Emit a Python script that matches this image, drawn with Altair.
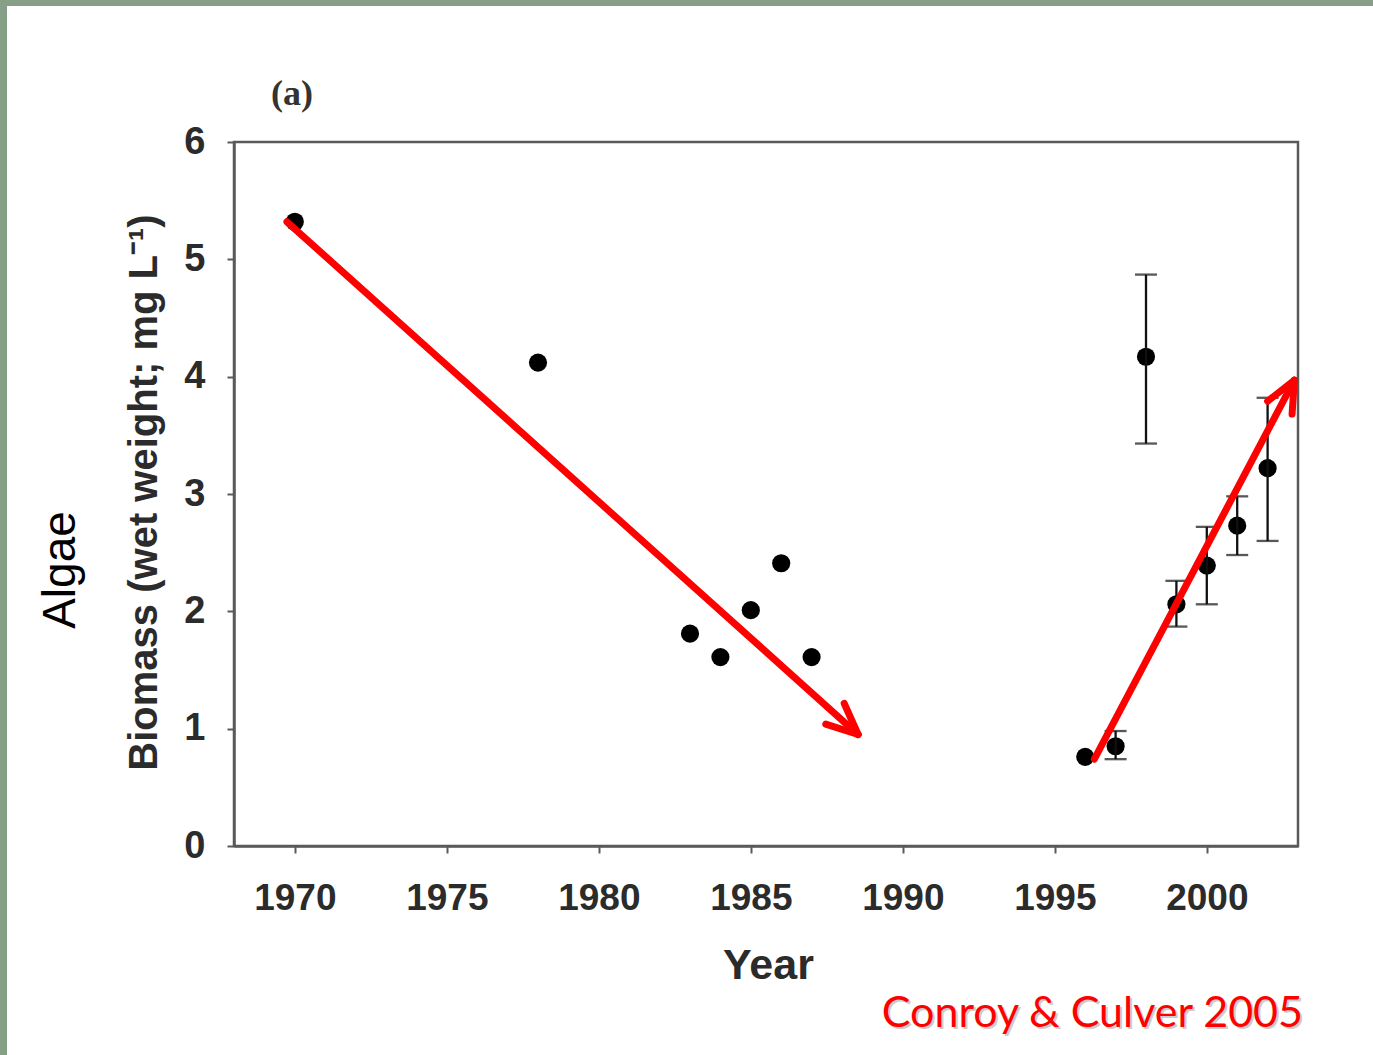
import math
import altair as alt
import pandas as pd

# Mean algal biomass by year
years = [1970, 1978, 1983, 1984, 1985, 1986, 1987, 1996, 1997, 1998, 1999, 2000, 2001, 2002]
biomass = [5.32, 4.12, 1.81, 1.61, 2.01, 2.41, 1.61, 0.76, 0.85, 4.17, 2.06, 2.39, 2.73, 3.22]

# Error bars (recent sampling years)
err_years = [1997, 1998, 1999, 2000, 2001, 2002]
err_low = [0.74, 3.43, 1.87, 2.06, 2.48, 2.60]
err_high = [0.98, 4.87, 2.26, 2.72, 2.98, 3.82]

# Trend arrows: start and end points in data units
arrow_x0 = [1969.74, 1996.30]
arrow_y0 = [5.32, 0.74]
arrow_x1 = [1988.53, 2002.88]
arrow_y1 = [0.95, 3.97]

x_ticks = [1970, 1975, 1980, 1985, 1990, 1995, 2000]
y_ticks = [0, 1, 2, 3, 4, 5, 6]
X_DOMAIN = [1968, 2003]
Y_DOMAIN = [0, 6]

W, H = 1064, 704
PAD = {"left": 234, "top": 142, "right": 75, "bottom": 209}

# Build arrow segments (shaft + two head wings)
sx = W / (X_DOMAIN[1] - X_DOMAIN[0])
sy = H / (Y_DOMAIN[1] - Y_DOMAIN[0])
HEAD_LEN = 34
HEAD_ANG = math.radians(24)
seg_rows = []
for x0, y0, x1, y1 in zip(arrow_x0, arrow_y0, arrow_x1, arrow_y1):
    seg_rows.append({"x": x0, "y": y0, "x2": x1, "y2": y1})
    ang = math.atan2(-(y1 - y0) * sy, (x1 - x0) * sx)
    for sgn in (1, -1):
        a = ang + math.pi + sgn * HEAD_ANG
        wx = x1 + HEAD_LEN * math.cos(a) / sx
        wy = y1 - HEAD_LEN * math.sin(a) / sy
        seg_rows.append({"x": x1, "y": y1, "x2": wx, "y2": wy})
segments = pd.DataFrame(seg_rows)

points = pd.DataFrame({"year": years, "biomass": biomass})
errs = pd.DataFrame({"year": err_years, "low": err_low, "high": err_high})
caps = pd.DataFrame({"year": err_years + err_years, "cap": err_low + err_high})
one = pd.DataFrame({"k": [0]})

AXIS_GREY = "#5a5a5a"
LABEL = "#2b2b2b"

x_enc = alt.X(
    "year:Q",
    scale=alt.Scale(domain=X_DOMAIN, nice=False, zero=False),
    axis=alt.Axis(
        values=x_ticks, format="d", title="Year", grid=False,
        labelFont="Liberation Sans", labelFontSize=37, labelFontWeight="bold",
        labelColor=LABEL, labelPadding=27, labelFlush=False,
        tickSize=7, tickWidth=2, tickColor=AXIS_GREY,
        domainColor=AXIS_GREY, domainWidth=2.5,
        titleFont="Liberation Sans", titleFontSize=43, titleFontWeight="bold",
        titleColor=LABEL, titleBaseline="alphabetic", titleAlign="center",
        titleX=534, titleY=132,
    ),
)
y_enc = alt.Y(
    "biomass:Q",
    scale=alt.Scale(domain=Y_DOMAIN, nice=False, zero=True),
    axis=alt.Axis(
        values=y_ticks, format="d", title="Biomass (wet weight; mg L⁻¹)", grid=False,
        labelFont="Liberation Sans", labelFontSize=38, labelFontWeight="bold",
        labelColor=LABEL, labelPadding=22, labelFlush=False,
        tickSize=7, tickWidth=2, tickColor=AXIS_GREY,
        domainColor=AXIS_GREY, domainWidth=2.5,
        titleFont="Liberation Sans", titleFontSize=40, titleFontWeight="bold",
        titleColor=LABEL, titleAngle=-90, titleBaseline="alphabetic",
        titleAlign="center", titleX=-78, titleY=350,
    ),
)

pts = alt.Chart(points).mark_circle(size=330, color="black", opacity=1).encode(x=x_enc, y=y_enc)

bars = alt.Chart(errs).mark_rule(color="#111", strokeWidth=2.3).encode(
    x=alt.X("year:Q"), y=alt.Y("low:Q"), y2="high:Q"
)
cap_ticks = alt.Chart(caps).mark_tick(
    color="#111", orient="horizontal", size=22, thickness=2.3
).encode(x=alt.X("year:Q"), y=alt.Y("cap:Q"))

arrows = alt.Chart(segments).mark_rule(
    color="#ff0000", strokeWidth=7, strokeCap="round"
).encode(x=alt.X("x:Q"), y=alt.Y("y:Q"), x2="x2:Q", y2="y2:Q")

# Frame strips along the left and top of the slide
BORDER = "#879f86"
left_strip = alt.Chart(one).mark_rect(color=BORDER).encode(
    x=alt.value(-PAD["left"]), x2=alt.value(-PAD["left"] + 7),
    y=alt.value(-PAD["top"]), y2=alt.value(H + PAD["bottom"]),
)
top_strip = alt.Chart(one).mark_rect(color=BORDER).encode(
    x=alt.value(-PAD["left"]), x2=alt.value(W + PAD["right"]),
    y=alt.value(-PAD["top"]), y2=alt.value(-PAD["top"] + 6),
)

panel = alt.Chart(one).mark_text(
    text="(a)", font="Liberation Serif", fontSize=36, fontWeight="bold",
    color="#333", align="center", baseline="alphabetic",
).encode(x=alt.value(58), y=alt.value(-37))

algae = alt.Chart(one).mark_text(
    text="Algae", font="Liberation Sans", fontSize=46, color="black",
    angle=270, align="center", baseline="alphabetic",
).encode(x=alt.value(75 - PAD["left"]), y=alt.value(570 - PAD["top"]))

cite_shadow = alt.Chart(one).mark_text(
    text="Conroy & Culver 2005", font="Lato", fontSize=43, color="#9a9a9a",
    opacity=0.5, align="right", baseline="alphabetic",
).encode(x=alt.value(1303 - PAD["left"] + 2), y=alt.value(1027 - PAD["top"] + 2))
cite = alt.Chart(one).mark_text(
    text="Conroy & Culver 2005", font="Lato", fontSize=43, color="#ff0000",
    align="right", baseline="alphabetic",
).encode(x=alt.value(1303 - PAD["left"]), y=alt.value(1027 - PAD["top"]))

chart = alt.layer(
    pts, bars, cap_ticks, arrows, left_strip, top_strip, panel, algae, cite_shadow, cite
).properties(
    width=W, height=H, padding=PAD, autosize="none", background="white"
).configure_view(
    stroke=AXIS_GREY, strokeWidth=2.5
)

chart.save("out.html", embed_options={"renderer": "svg", "actions": False})
